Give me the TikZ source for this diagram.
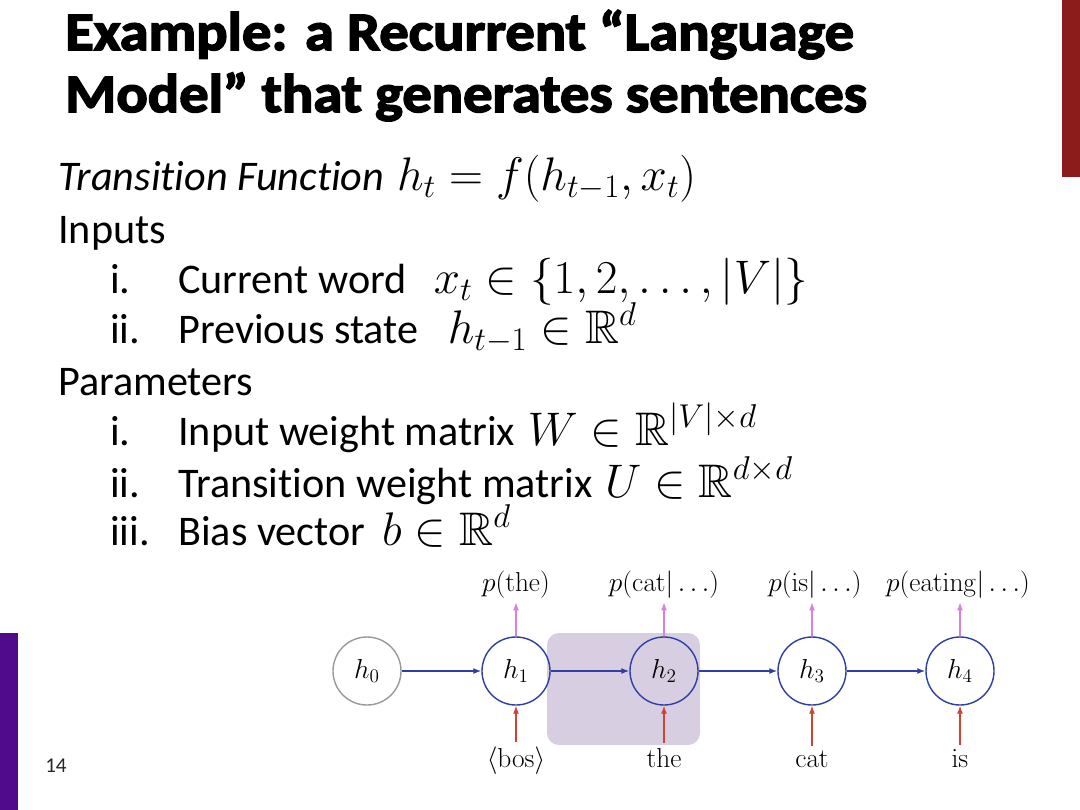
\documentclass[tikz,border=0pt]{standalone}
\usepackage{fix-cm}
\usepackage{amssymb}
\usepackage[no-math]{fontspec}
\setmainfont{Carlito}[Ligatures={NoCommon}]
\newfontfamily\titlefont{Carlito}[FakeStretch=1.08,BoldFeatures={FakeBold=3}]
\usetikzlibrary{arrows.meta}
\definecolor{rnnblue}{HTML}{2E3FA8}
\definecolor{outpink}{HTML}{DD80DD}
\definecolor{inred}{HTML}{CC4433}
\definecolor{focusfill}{HTML}{D8CEE1}
\definecolor{barpurple}{HTML}{500A8C}
\definecolor{barred}{HTML}{8C1C1C}
\newcommand{\mathsz}{\fontsize{33.5}{40}\selectfont}
\tikzset{
	txt/.style={anchor=base west,inner sep=0pt,font=\fontsize{30}{36}\selectfont},
	state/.style={circle,draw=rnnblue,line width=1pt,minimum size=1.7cm,inner sep=0pt},
	initstate/.style={state,draw=gray!80},
	lbl/.style={anchor=base,inner sep=0pt},
	recur/.style={->,draw=rnnblue,line width=1pt},
	outarr/.style={->,draw=outpink,line width=0.8pt},
	inarr/.style={->,draw=inred,line width=0.8pt}
}
\begin{document}
\begin{tikzpicture}[x=0.025cm,y=-0.025cm,>={Latex[length=2mm,width=1.5mm]}]
	\useasboundingbox (0,0) rectangle (1080,810);
	\fill[barred] (1062,0) rectangle (1080,177);
	\fill[barpurple] (0,633) rectangle (18,810);
	% title
	\node[txt,font=\titlefont\bfseries\fontsize{38.5}{46}\selectfont] (title1) at (65,50) {Example: a Recurrent “Language};
	\node[txt,font=\titlefont\bfseries\fontsize{38.5}{46}\selectfont] (title2) at (65,112) {Model” that generates sentences};
	% text
	\node[txt] (trans) at (58,190) {\textit{Transition Function}\hspace{0.3em}{\mathsz$h_t = f(h_{t-1},x_t)$}};
	\node[txt] (inputs) at (58,243) {Inputs};
	\node[txt] (in1n) at (110,293) {i.};
	\node[txt] (in1) at (178,293) {Current word\hspace{0.65em}{\mathsz$x_t\in\{1,2,\ldots,|V|\}$}};
	\node[txt] (in2n) at (110,343) {ii.};
	\node[txt] (in2) at (178,343) {Previous state\hspace{0.7em}{\mathsz$h_{t-1}\in\mathbb{R}^d$}};
	\node[txt] (params) at (58,395) {Parameters};
	\node[txt] (par1n) at (110,445) {i.};
	\node[txt] (par1) at (178,445) {Input weight matrix\hspace{0.3em}{\mathsz$W\in\mathbb{R}^{|V|\times d}$}};
	\node[txt] (par2n) at (110,497) {ii.};
	\node[txt] (par2) at (178,497) {Transition weight matrix\hspace{0.3em}{\mathsz$U\in\mathbb{R}^{d\times d}$}};
	\node[txt] (par3n) at (110,545) {iii.};
	\node[txt] (par3) at (178,545) {Bias vector\hspace{0.4em}{\mathsz$b\in\mathbb{R}^d$}};
	\node[txt,font=\fontsize{15}{18}\selectfont,text=black!85] (page) at (45,772) {14};
	% rnn
	\fill[focusfill,rounded corners=0.3cm] (547,633) rectangle (700,745);
	\begin{scope}[font=\fontsize{19.5}{24}\selectfont]
		\node[initstate] (h0) at (367,671) {$h_0$};
		\node[state] (h1) at (516,671) {$h_1$};
		\node[state] (h2) at (664,671) {$h_2$};
		\node[state] (h3) at (812,671) {$h_3$};
		\node[state] (h4) at (960,671) {$h_4$};
		\node[lbl] (p1) at (516,591) {$p(\mathrm{the})$};
		\node[lbl] (p2) at (664,591) {$p(\mathrm{cat}|\ldots)$};
		\node[lbl] (p3) at (815,591) {$p(\mathrm{is}|\ldots)$};
		\node[lbl] (p4) at (958,591) {$p(\mathrm{eating}|\ldots)$};
		\node[lbl] (x1) at (516,767) {$\langle\mathrm{bos}\rangle$};
		\node[lbl] (x2) at (664,767) {$\mathrm{the}$};
		\node[lbl] (x3) at (812,767) {$\mathrm{cat}$};
		\node[lbl] (x4) at (960,767) {$\mathrm{is}$};
	\end{scope}
	\draw[recur] (h0) -- (h1);
	\draw[recur] (h1) -- (h2);
	\draw[recur] (h2) -- (h3);
	\draw[recur] (h3) -- (h4);
	\foreach \i in {1,...,4}{
		\draw[outarr] (h\i.north) -- ([yshift=-3pt]p\i.south -| h\i);
		\draw[inarr] ([yshift=3pt]x\i.north -| h\i) -- (h\i.south);
	}
\end{tikzpicture}
\end{document}
